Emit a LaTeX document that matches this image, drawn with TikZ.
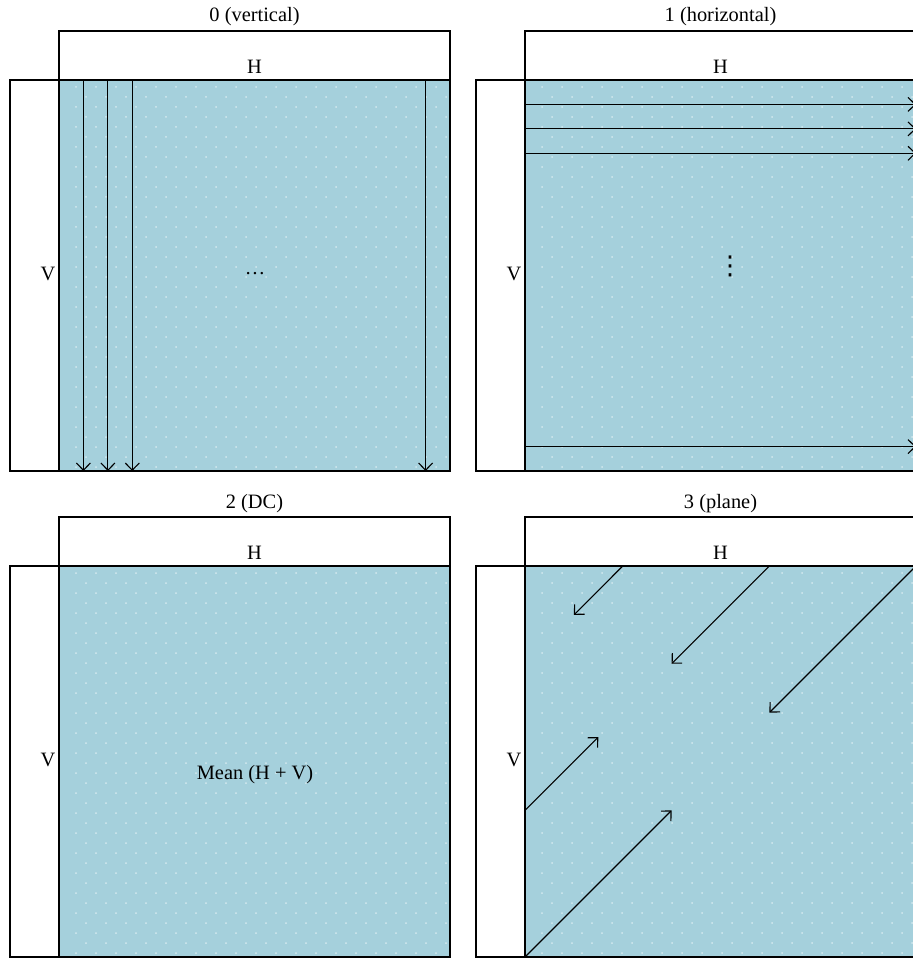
\documentclass[tikz,border=0pt]{standalone}
\usepackage{fontspec}
\setmainfont{Liberation Serif}
\newfontfamily\symfont{DejaVu Sans}
\usetikzlibrary{arrows.meta}
\definecolor{fieldblue}{RGB}{165,208,220}
\definecolor{dotblue}{RGB}{212,233,239}

\tikzset{
  frame/.style={draw=black, line width=0.65pt},
  lbl/.style={inner sep=0pt, font=\fontsize{10.2}{12}\selectfont},
  scan/.style={draw=black, line width=0.55pt,
    -{Straight Barb[length=3.6pt, width=7pt]}},
}

% One prediction panel: #1,#2 = top-left corner of the block, #3 = title, #4 = name
\newcommand\predpanel[4]{%
  \begin{scope}[shift={(#1,#2)}]
    \fill[fieldblue] (0,0) rectangle (391,391);
    \begin{scope}
      \clip (0,0) rectangle (391,391);
      \foreach \j in {0,...,38} {
        \pgfmathsetmacro\off{mod(\j,2)*10}
        \foreach \i in {0,...,19}
          \fill[dotblue] (17+\off+20*\i, 7+10*\j) circle (0.5pt);
      }
    \end{scope}
    \draw[frame] (0,-49) rectangle (391,0);
    \draw[frame] (-49,0) rectangle (0,391);
    \draw[frame] (0,0) rectangle (391,391);
    \node[lbl, anchor=base] (#4-title) at (195.5,-58) {#3};
    \node[lbl] (#4-H) at (195.5,-13.5) {H};
    \node[lbl] (#4-V) at (-11,194) {V};
    \coordinate (#4-o) at (0,0);
  \end{scope}
}

\begin{document}
\begin{tikzpicture}[x=0.5pt, y=-0.5pt]
  \useasboundingbox (0,0) rectangle (913,962);

  % 0: vertical
  \predpanel{59}{80}{0 (vertical)}{pv}
  \begin{scope}[shift={(59,80)}]
    \foreach \x in {24.4,48.9,73.3,366.6}
      \draw[scan] (\x,0) -- (\x,391);
    \node[lbl] (pv-dots) at (196,194) {\dots};
  \end{scope}

  % 1: horizontal
  \predpanel{525}{80}{1 (horizontal)}{ph}
  \begin{scope}[shift={(525,80)}]
    \foreach \y in {24.4,48.9,73.3,366.6}
      \draw[scan] (0,\y) -- (391,\y);
    \node[lbl, font=\symfont\fontsize{13}{14}\selectfont] (ph-dots) at (205,186) {⋮};
  \end{scope}

  % 2: DC
  \predpanel{59}{566}{2 (DC)}{pd}
  \begin{scope}[shift={(59,566)}]
    \node[lbl] (pd-mean) at (196,209) {Mean (H + V)};
  \end{scope}

  % 3: plane
  \predpanel{525}{566}{3 (plane)}{pp}
  \begin{scope}[shift={(525,566)}]
    \draw[scan] (97.75,0) -- (48.9,48.9);
    \draw[scan] (244.4,0) -- (146.6,97.75);
    \draw[scan] (391,0) -- (244.4,146.6);
    \draw[scan] (0,244.4) -- (73.3,171.1);
    \draw[scan] (0,391) -- (146.6,244.4);
  \end{scope}
\end{tikzpicture}
\end{document}
